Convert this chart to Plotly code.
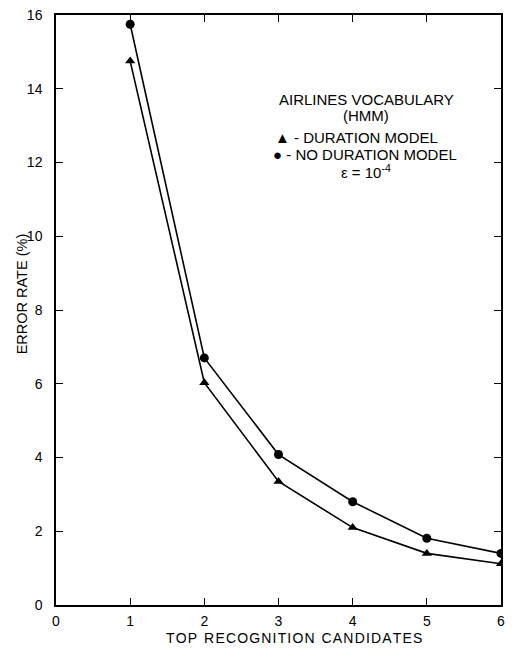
import plotly.graph_objects as go

candidates = [1, 2, 3, 4, 5, 6]
duration_model = [14.75, 6.03, 3.35, 2.1, 1.4, 1.12]
no_duration_model = [15.75, 6.7, 4.08, 2.8, 1.81, 1.4]
x_ticks = [0, 1, 2, 3, 4, 5, 6]
y_ticks = [0, 2, 4, 6, 8, 10, 12, 14, 16]

FONT = "Liberation Sans"

fig = go.Figure()
fig.add_trace(go.Scatter(x=candidates, y=duration_model, mode="lines+markers",
                         line=dict(color="black", width=1.6),
                         marker=dict(symbol="triangle-up", size=9, color="black"),
                         name="DURATION MODEL", showlegend=False))
fig.add_trace(go.Scatter(x=candidates, y=no_duration_model, mode="lines+markers",
                         line=dict(color="black", width=1.6),
                         marker=dict(symbol="circle", size=9, color="black"),
                         name="NO DURATION MODEL", showlegend=False))

axis_common = dict(showgrid=False, zeroline=False, showline=True, linecolor="black",
                   linewidth=1.5, mirror="allticks", ticks="inside", ticklen=7,
                   tickwidth=1.2, tickcolor="black",
                   tickfont=dict(family=FONT, size=14, color="black"))

fig.update_xaxes(range=[0, 6], tickvals=x_ticks, ticklabelstandoff=2, **axis_common)
fig.update_yaxes(range=[0, 16], tickvals=y_ticks, ticklabelstandoff=9, **axis_common)

W, H = 512, 649
l, r, t, b = 56, 7, 13, 44
fig.update_layout(
    width=W, height=H,
    margin=dict(l=l, r=r, t=t, b=b),
    plot_bgcolor="white", paper_bgcolor="white",
    font=dict(family=FONT, size=13, color="black"),
)

pw, ph = W - l - r, H - t - b
def px(xp):
    return (xp - l) / pw
def py(yp):
    return (H - b - yp) / ph

fig.add_annotation(x=px(296), y=py(638), xref="paper", yref="paper",
                   xanchor="center", yanchor="middle",
                   text="T O P  R E C O G N I T I O N  C A N D I D A T E S".replace("  ", "\u2002").replace(" ", "\u200a"),
                   showarrow=False,
                   font=dict(family=FONT, size=14, color="black"))
fig.add_annotation(x=px(22), y=py(293), xref="paper", yref="paper",
                   xanchor="center", yanchor="middle",
                   text="ERROR RATE (%)", textangle=-90, showarrow=False,
                   font=dict(family=FONT, size=14.5, color="black"))

legend_lines = [
    (369, 98, "AIRLINES VOCABULARY"),
    (369, 114, "(HMM)"),
    (359, 136, "▲ - DURATION MODEL"),
    (368, 153, "● - NO DURATION MODEL"),
    (369, 170, "ε = 10<sup>-4</sup>"),
]
for xp, yp, txt in legend_lines:
    fig.add_annotation(x=px(xp), y=py(yp), xref="paper", yref="paper",
                       xanchor="center", yanchor="middle",
                       text=txt, showarrow=False,
                       font=dict(family=FONT, size=15, color="black"))

fig.write_html("out.html")
